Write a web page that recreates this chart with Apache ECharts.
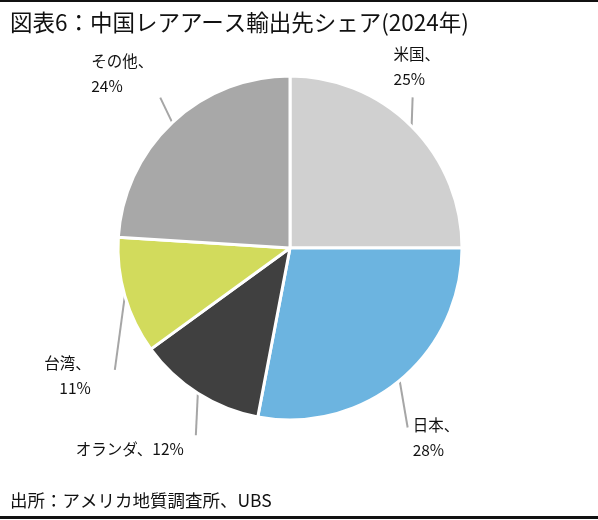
<!DOCTYPE html>
<html>
<head>
<meta charset="utf-8">
<script src="https://cdn.jsdelivr.net/npm/echarts@6/dist/echarts.min.js"></script>
<style>
  html, body { margin: 0; padding: 0; background: #fff; }
  #main { width: 598px; height: 520px; }
</style>
</head>
<body>
<div id="main"></div>
<script>
// データ
var names = ["米国", "日本", "オランダ", "台湾", "その他"];
var shares = [25, 28, 12, 11, 24];
var colors = ["#d0d0d0", "#6cb4e0", "#404040", "#d2db5c", "#a8a8a8"];

// ラベル位置の調整（扇の外周点からの相対位置）
var labelTweak = [
  { line: [1, -29], pos: [-18, -85], align: "left" },
  { line: [8, 47], pos: [13, 32], align: "left" },
  { line: [-2, 42], pos: [-14, 43], align: "right" },
  { line: [-10, 74], pos: [-34, 55], align: "right" },
  { line: [-12, -25], pos: [-81, -74], align: "left" }
];

var FONT = '"Noto Sans CJK JP", "Noto Sans", sans-serif';
var myChart = echarts.init(document.getElementById("main"));

var pieData = names.map(function (n, i) {
  return {
    name: n,
    value: shares[i],
    itemStyle: { color: colors[i] },
    label: { formatter: i === 2 ? "{b}、{c}%" : "{b}、\n{c}%" }
  };
});

var option = {
  backgroundColor: "#fff",
  animation: false,
  title: [
    {
      text: "図表6：中国レアアース輸出先シェア(2024年)",
      left: 5,
      top: 6,
      textStyle: { fontFamily: FONT, fontSize: 22.5, fontWeight: "normal", color: "#111" }
    },
    {
      text: "出所：アメリカ地質調査所、UBS",
      left: 5,
      top: 487,
      textStyle: { fontFamily: FONT, fontSize: 17.5, fontWeight: "normal", color: "#111" }
    }
  ],
  graphic: [
    { type: "rect", left: 0, top: 0, shape: { width: 598, height: 2 }, style: { fill: "#111" } },
    { type: "rect", left: 0, top: 516, shape: { width: 598, height: 3 }, style: { fill: "#111" } }
  ],
  series: [
    {
      type: "pie",
      center: [290, 248],
      radius: "172",
      startAngle: 90,
      clockwise: true,
      itemStyle: { borderColor: "#fff", borderWidth: 3 },
      label: {
        show: true,
        fontFamily: FONT,
        fontSize: 15.5,
        lineHeight: 25,
        color: "#111"
      },
      labelLine: {
        show: true,
        length: 20,
        length2: 0,
        lineStyle: { color: "#a6a6a6", width: 2 }
      },
      labelLayout: function (params) {
        var t = labelTweak[params.dataIndex];
        var p = params.labelLinePoints ? params.labelLinePoints[0] : [0, 0];
        return {
          x: p[0] + t.pos[0],
          y: p[1] + t.pos[1],
          align: t.align,
          verticalAlign: "top",
          labelLinePoints: [
            [p[0], p[1]],
            [p[0] + t.line[0], p[1] + t.line[1]]
          ]
        };
      },
      emphasis: { disabled: true },
      data: pieData
    }
  ]
};

option && myChart.setOption(option);
</script>
</body>
</html>
